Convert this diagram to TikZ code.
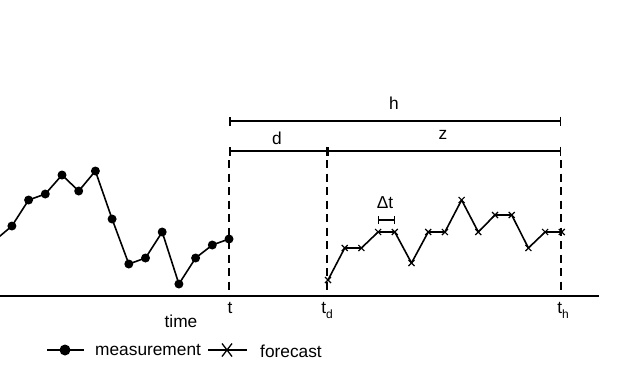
\documentclass[tikz,border=0pt]{standalone}
\usepackage{fontspec}
\setmainfont{Liberation Sans}
\usetikzlibrary{arrows.meta}
\begin{document}
\begin{tikzpicture}[x=1pt,y=-1pt,
  every node/.style={font=\fontsize{17.3}{20}\selectfont, inner sep=0pt},
  series/.style={line width=1.6pt, line join=round},
  guide/.style={line width=1.5pt, dash pattern=on 8pt off 5.5pt},
  span/.style={line width=1.5pt, {Bar[width=9pt,line width=1.5pt]}-{Bar[width=9pt,line width=1.5pt]}},
  dotmark/.style={circle, fill=black, minimum size=9pt, inner sep=0pt},
  crossmark/.style={line width=1.2pt}]
\useasboundingbox (0,0) rectangle (628,365);
\begin{scope}
\clip (0,0) rectangle (628,365);
% measurement series
\coordinate (m0) at (-4.7,240);
\foreach \i/\y in {1/226,2/200,3/194,4/175,5/191,6/171,7/219,8/264,9/258,10/232,11/284,12/258,13/245,14/239}
  \coordinate (m\i) at ({229-(14-\i)*16.7},\y);
\draw[series] (m0) \foreach \i in {1,...,14}{ -- (m\i)};
\foreach \i in {1,...,14} \node[dotmark] (dm\i) at (m\i) {};
\end{scope}
% forecast series
\foreach \i/\y in {0/280,1/248,2/248,3/232,4/232,5/263,6/232,7/232,8/200,9/232,10/215,11/215,12/248,13/232,14/232}
  \coordinate (f\i) at ({328+\i*16.7},\y);
\draw[series] (f0) \foreach \i in {1,...,14}{ -- (f\i)};
\foreach \i in {0,...,14}
  \draw[crossmark] ([shift={(-3,-3)}]f\i) -- ([shift={(3,3)}]f\i)
                   ([shift={(-3,3)}]f\i) -- ([shift={(3,-3)}]f\i);
% axis
\coordinate (a0) at (0,296);
\coordinate (a1) at (599,296);
\draw[line width=1.6pt] (a0) -- (a1);
% guides
\coordinate (gt) at (229,296);   \coordinate (gtT) at (229,160);
\coordinate (gd) at (327,296);   \coordinate (gdT) at (327,160);
\coordinate (gh) at (561,296);   \coordinate (ghT) at (561,160);
\draw[guide] (gtT) -- (gt);
\draw[guide] (gdT) -- (gd);
\draw[guide] (ghT) -- (gh);
% spans
\coordinate (h0) at (229,121); \coordinate (h1) at (561,121);
\coordinate (d0) at (229,151); \coordinate (d1) at (327,151);
\coordinate (z0) at (327,151); \coordinate (z1) at (561,151);
\coordinate (s0) at (378,220); \coordinate (s1) at (395,220);
\draw[span] (h0) -- (h1);
\draw[span] (d0) -- (d1);
\draw[span] (z0) -- (z1);
\draw[span, {Bar[width=8pt,line width=1.3pt]}-{Bar[width=8pt,line width=1.3pt]}] (s0) -- (s1);
\node (lh) at (394,103) {h};
\node (ld) at (277,138) {d};
\node (lz) at (443,135) {z};
\node (ldt) at (385,203) {Δt};
% axis labels
\node (lt) at (230,308) {t};
\node (ltd) at (327,310) {t\raisebox{-5pt}{\fontsize{12}{14}\selectfont d}};
\node (lth) at (563,310) {t\raisebox{-5pt}{\fontsize{12}{14}\selectfont h}};
\node (ltime) at (181,321) {time};
% legend
\coordinate (lg0) at (47,350); \coordinate (lg1) at (84,350);
\draw[line width=1.6pt] (lg0) -- (lg1);
\node[dotmark, minimum size=11pt] (lgd) at (65,350) {};
\node[anchor=west] (lgm) at (95,350) {measurement};
\coordinate (lf0) at (208,350); \coordinate (lf1) at (247,350);
\coordinate (lfc) at (227,350);
\draw[line width=1.6pt] (lf0) -- (lf1);
\draw[line width=1.3pt] ([shift={(-5,-6.5)}]lfc) -- ([shift={(5,6.5)}]lfc)
                        ([shift={(-5,6.5)}]lfc) -- ([shift={(5,-6.5)}]lfc);
\node[anchor=west] (lgf) at (260,351) {forecast};
\end{tikzpicture}
\end{document}
